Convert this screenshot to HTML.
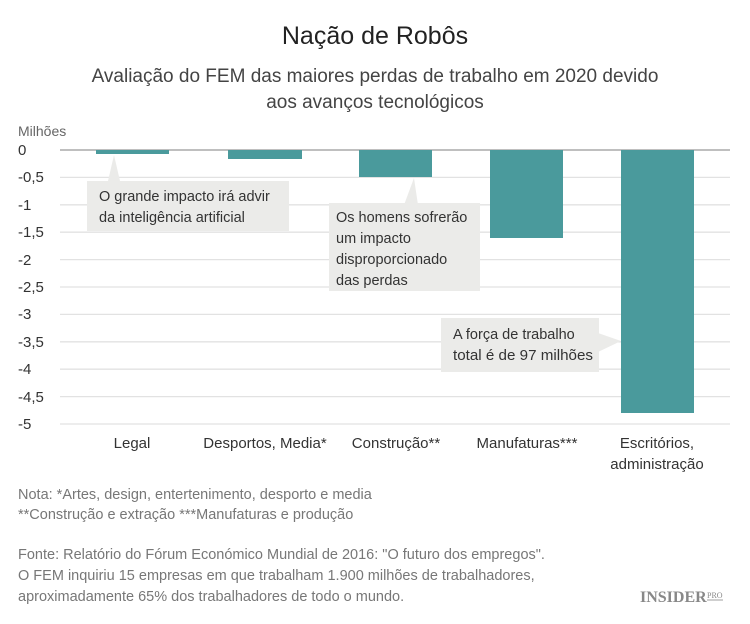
<!DOCTYPE html><html><head><meta charset="utf-8"><style>
body{margin:0;background:#fff;font-family:"Liberation Sans",sans-serif;}
</style></head><body>
<svg width="750" height="619" xmlns="http://www.w3.org/2000/svg" font-family="Liberation Sans, sans-serif">
<rect width="750" height="619" fill="#fff"/>
<text x="375" y="44" text-anchor="middle" font-size="25" fill="#222">Nação de Robôs</text>
<text x="375" y="82" text-anchor="middle" font-size="19" fill="#444">Avaliação do FEM das maiores perdas de trabalho em 2020 devido</text>
<text x="375" y="108" text-anchor="middle" font-size="19" fill="#444">aos avanços tecnológicos</text>
<text x="18" y="136" font-size="14" fill="#666">Milhões</text>
<g stroke="#e2e2e2" stroke-width="1.3">
<line x1="60" x2="730" y1="177.4" y2="177.4"/><line x1="60" x2="730" y1="204.8" y2="204.8"/><line x1="60" x2="730" y1="232.2" y2="232.2"/><line x1="60" x2="730" y1="259.6" y2="259.6"/><line x1="60" x2="730" y1="287" y2="287"/><line x1="60" x2="730" y1="314.4" y2="314.4"/><line x1="60" x2="730" y1="341.8" y2="341.8"/><line x1="60" x2="730" y1="369.2" y2="369.2"/><line x1="60" x2="730" y1="396.6" y2="396.6"/><line x1="60" x2="730" y1="424" y2="424"/>
</g>
<line x1="60" x2="730" y1="150" y2="150" stroke="#999" stroke-width="1.3"/>
<g font-size="15" fill="#333">
<text x="18" y="155">0</text><text x="18" y="182">-0,5</text><text x="18" y="210">-1</text><text x="18" y="237">-1,5</text><text x="18" y="265">-2</text><text x="18" y="292">-2,5</text><text x="18" y="319">-3</text><text x="18" y="347">-3,5</text><text x="18" y="374">-4</text><text x="18" y="402">-4,5</text><text x="18" y="429">-5</text>
</g>
<g fill="#4a9a9c">
<rect x="96" y="150" width="73" height="4"/><rect x="228" y="150" width="74" height="9"/><rect x="359" y="150" width="73" height="27"/><rect x="490" y="150" width="73" height="88"/><rect x="621" y="150" width="73" height="263"/>
</g>
<g fill="#ebebe9">
<polygon points="108,181 114,155 120,181"/><rect x="87" y="181" width="202" height="50"/>
<polygon points="404,205 414,178 418,205"/><rect x="329" y="203" width="151" height="88"/>
<polygon points="598,333 621,341 598,352"/><rect x="441" y="318" width="158" height="54"/>
</g>
<g font-size="14.5" fill="#333">
<text x="99" y="201">O grande impacto irá advir</text><text x="99" y="222">da inteligência artificial</text>
<text x="336" y="222">Os homens sofrerão</text><text x="336" y="243">um impacto</text><text x="336" y="264">disproporcionado</text><text x="336" y="285">das perdas</text>
<text x="453" y="339">A força de trabalho</text><text x="453" y="360" textLength="140" lengthAdjust="spacingAndGlyphs">total é de 97 milhões</text>
</g>
<g font-size="15" fill="#333" text-anchor="middle">
<text x="132" y="448">Legal</text><text x="265" y="448">Desportos, Media*</text><text x="396" y="448">Construção**</text><text x="527" y="448">Manufaturas***</text><text x="657" y="448">Escritórios,</text><text x="657" y="469">administração</text>
</g>
<g font-size="14.5" fill="#777">
<text x="18" y="499">Nota: *Artes, design, entertenimento, desporto e media</text>
<text x="18" y="519">**Construção e extração  ***Manufaturas e produção</text>
<text x="18" y="559">Fonte: Relatório do Fórum Económico Mundial de 2016: "O futuro dos empregos".</text>
<text x="18" y="580">O FEM inquiriu 15 empresas em que trabalham 1.900 milhões de trabalhadores,</text>
<text x="18" y="601">aproximadamente 65% dos trabalhadores de todo o mundo.</text>
</g>
<text x="640" y="602" font-family="Liberation Serif, serif" font-weight="bold" font-size="16" fill="#888">INSIDER</text>
<text x="707" y="598" font-family="Liberation Serif, serif" font-size="8" fill="#888">PRO</text>
<line x1="707" x2="723" y1="600" y2="600" stroke="#888" stroke-width="0.8"/>
</svg>
</body></html>
